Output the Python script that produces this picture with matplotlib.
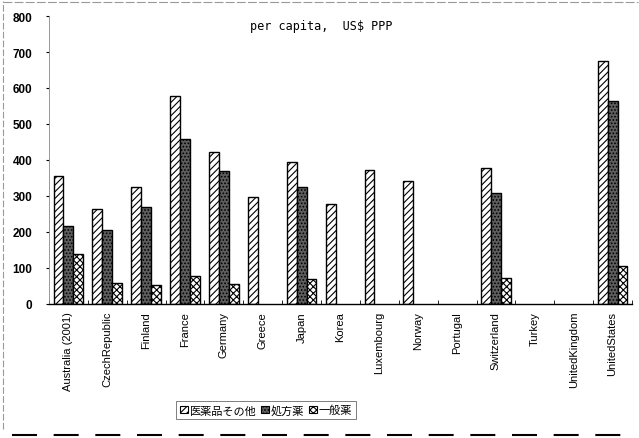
import matplotlib
matplotlib.use("Agg")
import matplotlib.pyplot as plt
import numpy as np
from matplotlib.patches import Patch
from matplotlib.lines import Line2D

countries = ["Australia (2001)", "CzechRepublic", "Finland", "France", "Germany",
             "Greece", "Japan", "Korea", "Luxembourg", "Norway", "Portugal",
             "Switzerland", "Turkey", "UnitedKingdom", "UnitedStates"]
s_other = [356, 263, 325, 577, 423, 296, 394, 277, 371, 341, 0, 378, 0, 0, 674]
s_rx = [217, 205, 269, 457, 369, 0, 325, 0, 0, 0, 0, 307, 0, 0, 563]
s_otc = [139, 59, 52, 78, 55, 0, 69, 0, 0, 0, 0, 71, 0, 0, 106]
series_names = ["医薬品その他", "処方薬", "一般薬"]
yticks = [0, 100, 200, 300, 400, 500, 600, 700, 800]

plt.rcParams['hatch.linewidth'] = 0.8
fig = plt.figure(figsize=(6.39, 4.39), dpi=100)
ax = fig.add_axes([49/639, 1-305/439, 583/639, 288/439])

x = np.arange(len(countries))
w = 0.255
styles = [dict(facecolor="white", hatch="/////"),
          dict(facecolor="#5e5e5e", hatch="....."),
          dict(facecolor="white", hatch="xxxxx")]
for i, vals in enumerate([s_other, s_rx, s_otc]):
    v = np.array(vals, dtype=float)
    xs = x + (i - 1) * w
    mask = v > 0
    ax.bar(xs[mask], v[mask], width=w, edgecolor="black", linewidth=1.0, **styles[i])

ax.set_xlim(-0.5, len(countries) - 0.5)
ax.set_ylim(0, 800)
ax.set_yticks(yticks)
ax.set_yticklabels([str(t) for t in yticks], fontsize=8.5, family="Liberation Sans", fontweight="bold")
ax.set_xticks(x)
ax.set_xticklabels(countries, rotation=90, fontsize=8, family="Liberation Sans")
ax.tick_params(axis="x", length=0, pad=5)
ax.set_xticks(np.arange(len(countries) + 1) - 0.5, minor=True)
ax.tick_params(axis="x", which="minor", length=3, direction="in")
ax.tick_params(axis="y", length=2, direction="out", pad=10)
for sp in ["top", "right"]:
    ax.spines[sp].set_visible(False)
ax.spines["left"].set_color("#888888")
ax.spines["left"].set_linewidth(0.6)
ax.spines["bottom"].set_linewidth(1.0)

ax.text(0.467, 0.99, "per capita,  US$ PPP", transform=ax.transAxes, ha="center",
        va="top", fontsize=8.5, family="DejaVu Sans Mono")

handles = [Patch(edgecolor="black", linewidth=0.8, **styles[i]) for i in range(3)]
leg = fig.legend(handles, series_names, loc="center", bbox_to_anchor=(266/639, 1-411/439),
                 ncol=3, prop={"family": ["Noto Sans CJK JP", "DejaVu Sans"], "size": 8},
                 frameon=True, fancybox=False, handlelength=0.7, handleheight=0.7,
                 handletextpad=0.2, columnspacing=0.4, borderpad=0.3, borderaxespad=0)
leg.get_frame().set_edgecolor("#444444")
leg.get_frame().set_linewidth(0.6)

# outer frame
fig.add_artist(Line2D([3/639, 3/639], [0.02, 0.995], transform=fig.transFigure,
                      color="#999999", lw=0.8, ls=(0, (6, 2))))
fig.add_artist(Line2D([3/639, 0.998], [1-3/439, 1-3/439], transform=fig.transFigure,
                      color="#999999", lw=0.8, ls=(0, (8, 2))))
fig.add_artist(Line2D([12/639, 0.995], [1-436/439, 1-436/439], transform=fig.transFigure,
                      color="black", lw=1.5, ls=(0, (12, 8))))

fig.savefig("out.png", dpi=100)
